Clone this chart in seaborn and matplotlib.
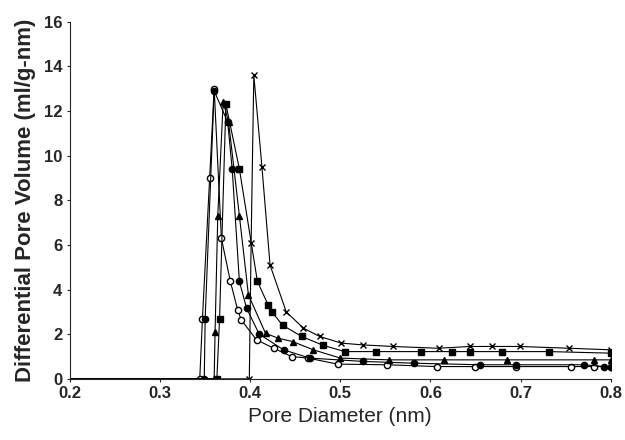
"""
Differential pore volume vs pore diameter (recreation of a scanned figure).
"""
import pandas as pd
import matplotlib
matplotlib.use('Agg')
import matplotlib.pyplot as plt
import seaborn as sns

# ---- data ----
x_open_circle = [0.2, 0.344, 0.347, 0.355, 0.360, 0.368, 0.378, 0.386, 0.390, 0.407,
                 0.426, 0.446, 0.464, 0.497, 0.552, 0.607, 0.650, 0.695, 0.756, 0.782, 0.8]
y_open_circle = [0.0, 0.0, 2.7, 9.0, 13.0, 6.3, 4.36, 3.1, 2.64, 1.75,
                 1.37, 1.0, 0.93, 0.66, 0.63, 0.55, 0.55, 0.55, 0.55, 0.55, 0.55]

x_filled_circle = [0.2, 0.349, 0.350, 0.360, 0.375, 0.380, 0.388, 0.396, 0.410, 0.437,
                   0.466, 0.525, 0.582, 0.655, 0.695, 0.770, 0.793, 0.8]
y_filled_circle = [0.0, 0.0, 2.7, 12.9, 11.5, 9.4, 4.36, 3.16, 2.0, 1.3,
                   0.93, 0.78, 0.70, 0.63, 0.63, 0.63, 0.55, 0.55]

x_triangle = [0.2, 0.360, 0.361, 0.364, 0.370, 0.376, 0.388, 0.398, 0.417, 0.431,
              0.447, 0.470, 0.500, 0.554, 0.615, 0.685, 0.782, 0.8]
y_triangle = [0.0, 0.0, 2.1, 7.3, 12.4, 11.5, 7.3, 3.76, 2.04, 1.82,
              1.67, 1.3, 0.93, 0.85, 0.85, 0.85, 0.85, 0.85]

x_square = [0.2, 0.363, 0.366, 0.373, 0.388, 0.408, 0.420, 0.424, 0.436, 0.457,
            0.481, 0.505, 0.540, 0.589, 0.624, 0.644, 0.679, 0.732, 0.8]
y_square = [0.0, 0.0, 2.7, 12.3, 9.4, 4.36, 3.3, 3.0, 2.4, 1.9,
            1.5, 1.22, 1.22, 1.22, 1.22, 1.22, 1.22, 1.22, 1.15]

x_cross = [0.2, 0.399, 0.401, 0.404, 0.413, 0.422, 0.440, 0.459, 0.477, 0.501,
           0.525, 0.558, 0.609, 0.644, 0.668, 0.699, 0.754, 0.8]
y_cross = [0.0, 0.0, 6.07, 13.6, 9.5, 5.1, 3.0, 2.27, 1.9, 1.6,
           1.52, 1.45, 1.37, 1.45, 1.45, 1.45, 1.37, 1.3]

x_ticks = [0.2, 0.3, 0.4, 0.5, 0.6, 0.7, 0.8]
y_ticks = [0, 2, 4, 6, 8, 10, 12, 14, 16]

series = [
    (x_open_circle, y_open_circle, 'o', 'white'),
    (x_filled_circle, y_filled_circle, 'o', 'black'),
    (x_triangle, y_triangle, '^', 'black'),
    (x_square, y_square, 's', 'black'),
    (x_cross, y_cross, 'x', 'black'),
]

sns.set_style('ticks')
plt.rcParams['font.family'] = ['Liberation Sans', 'DejaVu Sans']

fig = plt.figure(figsize=(6.25, 4.4), dpi=100)
ax = fig.add_axes([0.112, 0.139, 0.865, 0.812])

for xs, ys, mk, fc in series:
    df = pd.DataFrame({'d': xs, 'v': ys})
    # no marker on the first (0.2, 0) anchor point
    sns.lineplot(data=df, x='d', y='v', ax=ax, color='black', lw=0.8,
                 marker=mk, markersize=4.5, markerfacecolor=fc,
                 markeredgecolor='black', markeredgewidth=1.0,
                 markevery=list(range(1, len(xs))),
                 sort=False, estimator=None)

ax.set_xlim(0.2, 0.8)
ax.set_ylim(0, 16)
ax.set_xticks(x_ticks)
ax.set_xticklabels([f'{t:.1f}' for t in x_ticks], fontsize=12, fontweight='bold')
ax.set_yticks(y_ticks)
ax.set_yticklabels([str(t) for t in y_ticks], fontsize=12, fontweight='bold')
ax.tick_params(direction='out', length=2.5, width=0.8)
ax.tick_params(axis='x', pad=3)
ax.tick_params(axis='y', pad=3)
ax.set_xlabel('Pore Diameter (nm)', fontsize=15, labelpad=4)
ax.set_ylabel('Differential Pore Volume (ml/g-nm)', fontsize=16, fontweight='bold', labelpad=6)
sns.despine(ax=ax)
for s in ['left', 'bottom']:
    ax.spines[s].set_linewidth(0.8)

fig.savefig('out.png', dpi=100)
